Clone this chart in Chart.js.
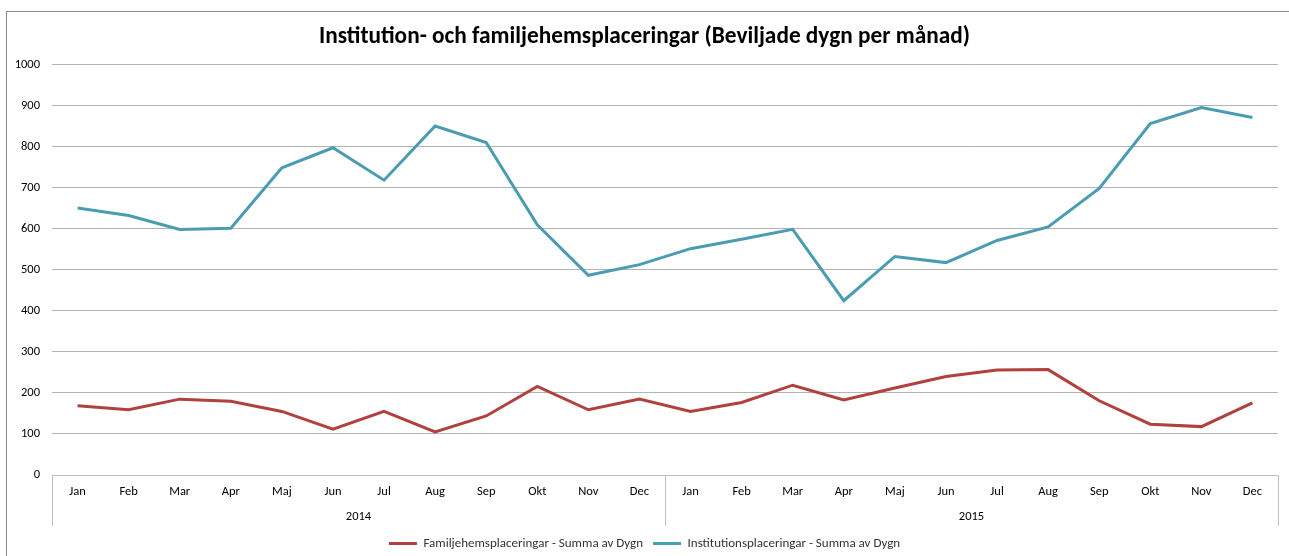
<!DOCTYPE html>
<html><head><meta charset="utf-8">
<script src="https://cdn.jsdelivr.net/npm/chart.js@4"></script>
<style>
html,body{margin:0;padding:0;background:#fff;overflow:hidden;}
#wrap{position:relative;width:1289px;height:556px;}
#frame{position:absolute;left:6px;top:11px;width:1290px;height:560px;border:1px solid #8c8c8c;box-sizing:border-box;}
canvas{position:absolute;left:0;top:0;}
</style></head><body>
<div id="wrap"><div id="frame"></div><canvas id="c" width="1289" height="556"></canvas></div>
<script>
const months = ['Jan','Feb','Mar','Apr','Maj','Jun','Jul','Aug','Sep','Okt','Nov','Dec',
                'Jan','Feb','Mar','Apr','Maj','Jun','Jul','Aug','Sep','Okt','Nov','Dec'];
const years = ['2014','2015'];
const familjehem = [169,159,185,180,155,112,155,105,144,216,159,185,
                    155,177,219,183,212,240,256,257,181,124,118,176];
const institution = [651,633,599,602,749,798,719,851,811,610,487,513,
                     552,575,599,425,533,518,572,605,699,857,896,872];
const yMin = 0, yMax = 1000, yStep = 100;

const FONT = 'Carlito, Calibri, "Open Sans", sans-serif';

const separators = {
  id: 'separators',
  afterDraw(chart) {
    const x = chart.scales.x, ctx = chart.ctx;
    const half = (x.getPixelForValue(1) - x.getPixelForValue(0)) / 2;
    const bounds = [x.getPixelForValue(0) - half, x.getPixelForValue(11) + half, x.getPixelForValue(23) + half];
    ctx.save();
    ctx.strokeStyle = '#bfbfbf';
    ctx.lineWidth = 1;
    bounds.forEach(b => {
      const bx = Math.round(b) + 0.5;
      ctx.beginPath();
      ctx.moveTo(bx, chart.chartArea.bottom);
      ctx.lineTo(bx, chart.chartArea.bottom + 51);
      ctx.stroke();
    });
    ctx.restore();
  }
};

new Chart(document.getElementById('c'), {
  type: 'line',
  data: {
    labels: months,
    datasets: [
      { label: 'Familjehemsplaceringar - Summa av Dygn', data: familjehem,
        borderColor: '#b0413e', backgroundColor: '#b0413e', borderWidth: 3,
        pointRadius: 0, tension: 0 },
      { label: 'Institutionsplaceringar - Summa av Dygn', data: institution,
        borderColor: '#4a9cb2', backgroundColor: '#4a9cb2', borderWidth: 3,
        pointRadius: 0, tension: 0 }
    ]
  },
  options: {
    responsive: false,
    animation: false,
    layout: { padding: { left: 0, right: 0, top: 0, bottom: -4 } },
    plugins: {
      title: { display: true, text: 'Institution- och familjehemsplaceringar (Beviljade dygn per månad)',
        color: '#000', font: { family: FONT, size: 23.3, weight: 'bold' }, padding: { top: 23, bottom: 14 } },
      legend: { position: 'bottom',
        labels: { usePointStyle: true, pointStyle: 'line', pointStyleWidth: 28, boxHeight: 12,
          color: '#333', font: { family: FONT, size: 13 }, padding: 10 } },
      tooltip: { enabled: false }
    },
    scales: {
      x: {
        type: 'category',
        offset: true,
        grid: { display: false, drawTicks: false },
        border: { display: true, color: '#bfbfbf' },
        ticks: { color: '#000', font: { family: FONT, size: 12.5 }, padding: 9, maxRotation: 0, autoSkip: false },
        afterFit(s) { s.height = 28; }
      },
      x2: {
        type: 'category',
        position: 'bottom',
        labels: years,
        offset: true,
        grid: { display: false, drawTicks: false },
        border: { display: false },
        ticks: { color: '#000', font: { family: FONT, size: 12.5 }, padding: 6, maxRotation: 0 },
        afterFit(s) { s.height = 24; }
      },
      y: {
        min: yMin, max: yMax,
        grid: { color: '#b3b3b3', drawTicks: false },
        border: { display: false },
        ticks: { stepSize: yStep, color: '#000', font: { family: FONT, size: 12.5 }, padding: 12,
          callback: v => String(v) },
        afterFit(s) { s.width = 52; }
      },
      yRight: {
        position: 'right',
        min: yMin, max: yMax,
        grid: { display: false, drawTicks: false },
        border: { display: false },
        ticks: { display: false },
        afterFit(s) { s.width = 11; }
      }
    }
  },
  plugins: [separators]
});
</script>
</body></html>
